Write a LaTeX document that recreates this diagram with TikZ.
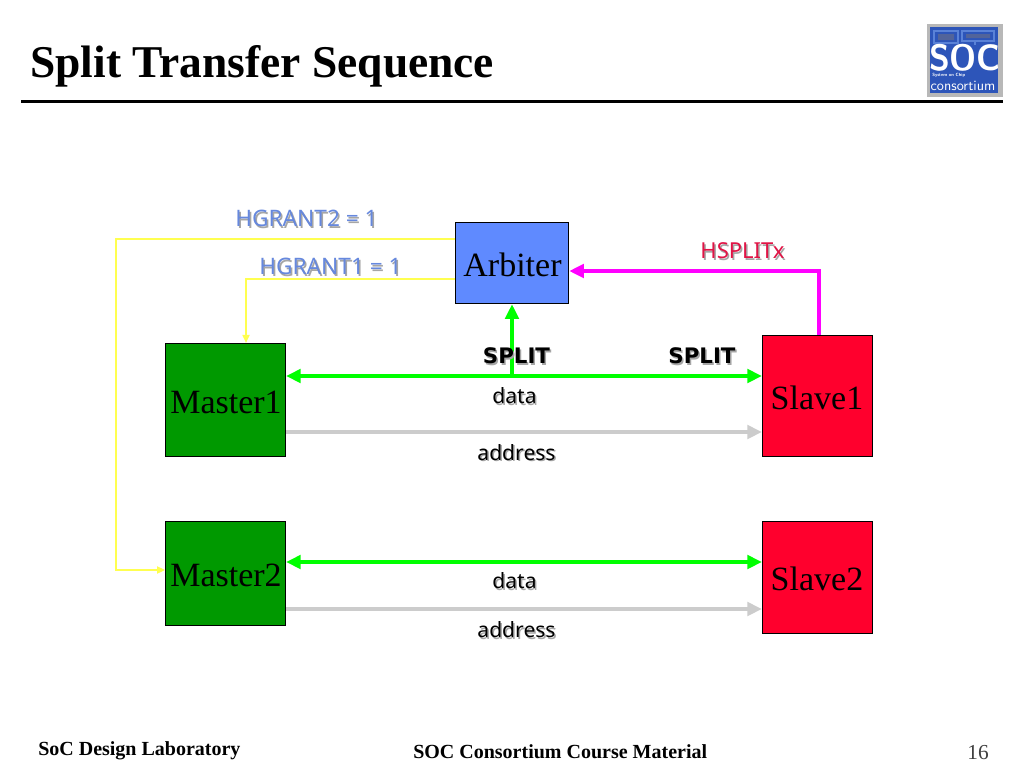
\documentclass[tikz,border=0pt]{standalone}
\usepackage{fontspec}
\setmainfont{Liberation Serif}
\newfontfamily\labelfont{Noto Sans}
\newfontfamily\boldlabel{DejaVu Sans Bold}
\usetikzlibrary{arrows.meta,calc}
\definecolor{arbblue}{RGB}{95,138,255}
\definecolor{mgreen}{RGB}{0,153,0}
\definecolor{sred}{RGB}{255,0,45}
\definecolor{busgreen}{RGB}{0,255,0}
\definecolor{addrgray}{RGB}{204,204,204}
\definecolor{grantyellow}{RGB}{255,255,80}
\definecolor{splitmag}{RGB}{255,0,255}
\definecolor{grantblue}{RGB}{102,136,221}
\definecolor{hsplitred}{RGB}{225,20,70}
\definecolor{logoblue}{RGB}{45,85,185}
\definecolor{logodark}{RGB}{24,48,120}
\definecolor{logolight}{RGB}{90,130,215}
\tikzset{
  x=0.75pt,y=-0.75pt,
  block/.style={draw=black,line width=0.75pt,inner sep=0pt},
  blocktext/.style={inner sep=0pt,anchor=base,font=\fontsize{25.5}{28}\selectfont},
  bus/.style={busgreen,line width=3pt,{Triangle[length=11pt,width=10pt]}-{Triangle[length=11pt,width=10pt]}},
  up/.style={busgreen,line width=3pt,-{Triangle[length=11pt,width=10pt]}},
  addr/.style={addrgray,line width=3pt,-{Triangle[length=11pt,width=10pt]}},
  hsplit/.style={splitmag,line width=3pt,-{Triangle[length=11pt,width=10pt]}},
  grant/.style={grantyellow,line width=0.8pt,-{Triangle[length=6pt,width=5.5pt]}},
  lab/.style={inner sep=0pt,font=\labelfont\fontsize{17}{18}\selectfont},
  small/.style={font=\labelfont\fontsize{15.8}{18}\selectfont},
  heavy/.style={font=\boldlabel\fontsize{16}{18}\selectfont},
  footer/.style={inner sep=0pt,font=\bfseries\fontsize{15}{17}\selectfont}
}
% text with its soft drop shadow
\newcommand{\shadowed}[5][]{%
  \node[lab,#1,text=black!35] at ($(#2,#3)+(1.5,1.5)$) {#5};
  \node[lab,#1,text=#4] at (#2,#3) {#5};}
\begin{document}
\begin{tikzpicture}
\useasboundingbox (0,0) rectangle (1024,768);
\fill[white] (0,0) rectangle (1024,768);
% title
\node[anchor=base west,inner sep=0pt,font=\bfseries\fontsize{34.1}{37}\selectfont] (title) at (30,77) {Split Transfer Sequence};
\draw[black,line width=2.2pt] (21,101.5) -- (1003,101.5);
% logo
\fill[black!28] (927,24) rectangle (1003,97);
\fill[logoblue] (930,27) rectangle (998,93);
\draw[logolight,line width=0.8pt] (934,31) rectangle (958,43) (962,31) rectangle (994,41) (940,43) -- (940,45) (975,41) -- (975,45);
\fill[logodark!75] (938,34) rectangle (954,40) (966,34) rectangle (990,38);
\node[inner sep=0pt,text=white,font=\sffamily\bfseries\fontsize{27.5}{27.5}\selectfont] (logosoc) at (965,58) {\scalebox{0.93}[1]{SOC}};
\node[inner sep=0pt,anchor=west,text=white,font=\sffamily\bfseries\fontsize{3.4}{4}\selectfont] (logosys) at (932,75.5) {System on Chip};
\node[inner sep=0pt,text=white,font=\sffamily\fontsize{10.6}{10.6}\selectfont] (logocons) at (963,85.5) {consortium};
% blocks
\node[block,fill=arbblue,minimum width=85pt,minimum height=61pt] (arbiter) at (512,263) {};
\node[block,fill=mgreen,minimum width=90pt,minimum height=85pt] (master1) at (225.5,400) {};
\node[block,fill=sred,minimum width=82.5pt,minimum height=91pt] (slave1) at (817.5,396) {};
\node[block,fill=mgreen,minimum width=90pt,minimum height=78.25pt] (master2) at (225.5,573.5) {};
\node[block,fill=sred,minimum width=82.5pt,minimum height=84.25pt] (slave2) at (817.5,577.5) {};
\node[blocktext] (arbitertext) at (512.5,276) {Arbiter};
\node[blocktext] (master1text) at (226,413) {Master1};
\node[blocktext] (slave1text) at (817,409) {Slave1};
\node[blocktext] (master2text) at (226,586) {Master2};
\node[blocktext] (slave2text) at (817,590) {Slave2};
% grant lines
\draw[grant] (arbiter.west |- 0,239) -| (116,570) -- (master2.west |- 0,570);
\draw[grant] (arbiter.west |- 0,279) -| (master1.north -| 246,0);
% HSPLITx
\draw[hsplit] (slave1.north -| 819,0) |- (arbiter.east |- 0,271);
% buses
\draw[addr] (master1.east |- 0,432) -- (slave1.west |- 0,432);
\draw[addr] (master2.east |- 0,609) -- (slave2.west |- 0,609);
\draw[bus] (master1.east |- 0,376) -- (slave1.west |- 0,376);
\draw[bus] (master2.east |- 0,562) -- (slave2.west |- 0,562);
\coordinate (junction) at (512,376);
\draw[up] (junction) -- (arbiter.south);
% labels
\shadowed{306.5}{218.5}{grantblue}{HGRANT2 = 1}
\shadowed{330.5}{266.5}{grantblue}{HGRANT1 = 1}
\shadowed[font=\labelfont\fontsize{16.5}{18}\selectfont]{742.5}{251}{hsplitred}{HSPLITx}
\shadowed[heavy]{516.5}{356}{black}{SPLIT}
\shadowed[heavy]{702}{356}{black}{SPLIT}
\shadowed[small]{514.5}{396}{black}{data}
\shadowed[small]{516.5}{452.5}{black}{address}
\shadowed[small]{514.5}{581}{black}{data}
\shadowed[small]{516.5}{630}{black}{address}
% footer
\node[footer,anchor=base west] (footleft) at (38,755) {SoC Design Laboratory};
\node[footer,anchor=base west] (footmid) at (413,758) {SOC Consortium Course Material};
\node[anchor=base east,inner sep=0pt,text=black!75,font=\fontsize{16}{18}\selectfont] (pagenum) at (989,759) {16};
\end{tikzpicture}
\end{document}
